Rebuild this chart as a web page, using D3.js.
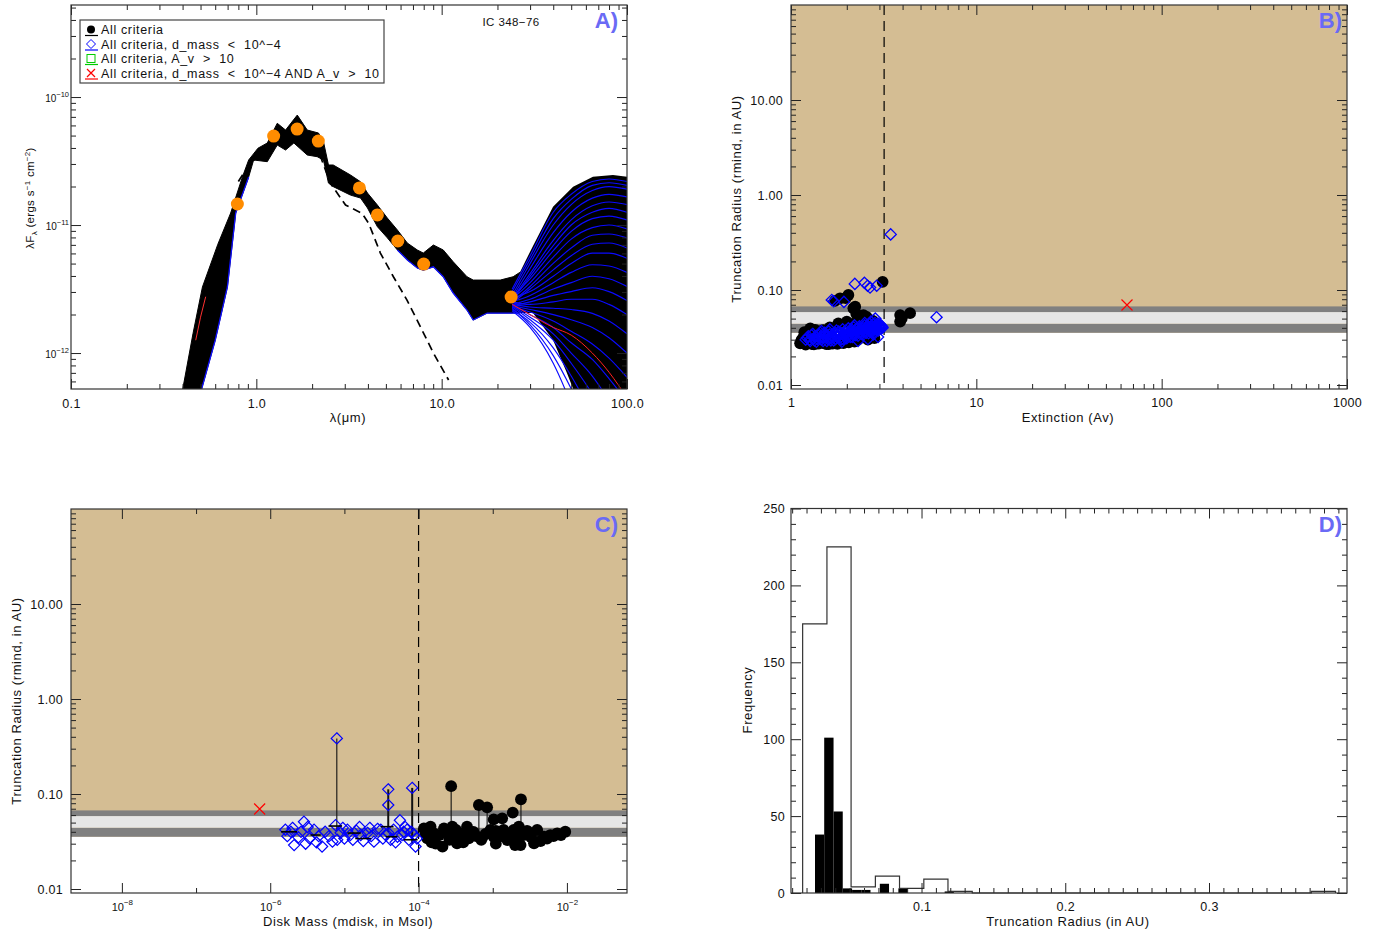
<!DOCTYPE html>
<html><head><meta charset="utf-8">
<script src="https://cdn.jsdelivr.net/npm/d3@7"></script>
<style>
body{margin:0;background:#fff}
svg{display:block}
text{font-family:"Liberation Sans",Arial,sans-serif;fill:#111}
</style></head>
<body><svg id="c" width="1387" height="936"></svg>
<script>
// ================= DATA =================
// Panel A : observed photometry (lambda in micron, lambda*F_lambda)
const obsLambda=[0.79,1.24,1.66,2.16,3.6,4.5,5.8,8.0,23.7];
const obsFlux=[1.46e-11,4.95e-11,5.62e-11,4.53e-11,1.95e-11,1.2e-11,7.5e-12,4.95e-12,2.74e-12];
// envelope of the fitted model SEDs  [lambda, log10 flux]
const bandUpper=[[0.395,-12.45],[0.401,-12.28],[0.455,-11.85],[0.512,-11.484],[0.62,-11.15],[0.727,-10.906],[0.841,-10.625],[0.909,-10.492],[1.02,-10.40],[1.146,-10.359],[1.297,-10.205],[1.438,-10.258],[1.663,-10.141],[1.883,-10.258],[2.164,-10.281],[2.303,-10.349],[2.45,-10.531],[2.6,-10.531],[3.22,-10.609],[3.65,-10.662],[3.98,-10.75],[4.5,-10.844],[5.09,-10.945],[5.77,-11.039],[6.53,-11.141],[7.39,-11.195],[7.96,-11.219],[9.02,-11.156],[10.2,-11.195],[11.54,-11.287],[13.7,-11.404],[14.8,-11.43],[20.7,-11.43],[24.3,-11.404],[26.4,-11.37]];
const bandLower=[[26.4,-11.6875],[24.3,-11.6875],[17.6,-11.6875],[14.8,-11.742],[13.7,-11.664],[11.54,-11.531],[10.2,-11.404],[9.02,-11.326],[7.96,-11.352],[7.39,-11.336],[6.53,-11.273],[5.77,-11.195],[5.09,-11.10],[4.5,-11.013],[3.98,-10.867],[3.65,-10.789],[3.22,-10.766],[2.6,-10.70],[2.45,-10.672],[2.303,-10.492],[2.13,-10.466],[1.883,-10.453],[1.594,-10.359],[1.438,-10.414],[1.297,-10.375],[1.146,-10.505],[0.967,-10.492],[0.909,-10.625],[0.774,-10.906],[0.698,-11.484],[0.60,-11.90],[0.507,-12.28],[0.50,-12.45]];
// long-wavelength spread of the models
const fanUpper=[[26.4,-11.37],[31.1,-11.163],[39.9,-10.857],[51.2,-10.70],[65.5,-10.623],[84,-10.609],[100,-10.623],[104,-10.62],[104,-12.6]];
const fanLower=[[54,-12.6],[51.2,-12.28],[47.4,-12.156],[39.9,-11.898],[31.1,-11.6875],[26.4,-11.6875]];
const fanLambda=[24,30,40,50,65,80,100];
const fanBlue=[
 [-11.50,-11.24,-10.90,-10.76,-10.66,-10.64,-10.66],
 [-11.52,-11.27,-10.95,-10.80,-10.69,-10.67,-10.69],
 [-11.55,-11.30,-11.00,-10.84,-10.73,-10.70,-10.72],
 [-11.57,-11.34,-11.06,-10.90,-10.79,-10.76,-10.78],
 [-11.58,-11.38,-11.12,-10.96,-10.85,-10.82,-10.84],
 [-11.59,-11.40,-11.16,-11.00,-10.90,-10.87,-10.90],
 [-11.56,-11.42,-11.20,-11.05,-10.95,-10.93,-10.96],
 [-11.58,-11.45,-11.25,-11.11,-11.02,-11.00,-11.03],
 [-11.60,-11.48,-11.30,-11.18,-11.08,-11.07,-11.10],
 [-11.61,-11.50,-11.35,-11.24,-11.15,-11.14,-11.18],
 [-11.57,-11.52,-11.40,-11.30,-11.22,-11.22,-11.26],
 [-11.60,-11.55,-11.45,-11.37,-11.31,-11.32,-11.37],
 [-11.62,-11.58,-11.50,-11.45,-11.40,-11.42,-11.48],
 [-11.63,-11.60,-11.55,-11.52,-11.49,-11.52,-11.59],
 [-11.60,-11.62,-11.60,-11.58,-11.58,-11.62,-11.70],
 [-11.62,-11.64,-11.65,-11.66,-11.69,-11.75,-11.85],
 [-11.63,-11.66,-11.70,-11.74,-11.80,-11.88,-12.00],
 [-11.64,-11.68,-11.75,-11.83,-11.93,-12.04,-12.19],
 [-11.62,-11.70,-11.80,-11.92,-12.05,-12.20,-12.38],
 [-11.63,-11.72,-11.85,-12.00,-12.18,-12.37,-12.59],
 [-11.64,-11.74,-11.90,-12.08,-12.32,-12.55,-12.80],
 [-11.66,-11.76,-11.96,-12.18,-12.48,-12.75,-13.05],
 [-11.65,-11.78,-12.02,-12.28,-12.65,-12.95,-13.30],
 [-11.67,-11.80,-12.08,-12.40,-12.85,-13.20,-13.50]
];
const fanRed=[-11.62,-11.70,-11.80,-11.86,-12.00,-12.15,-12.35];
const redBlueLambda=[0.471,0.50,0.533];
const redBlueLogF=[-11.90,-11.72,-11.56];
// stellar photosphere (dashed)
const photoLambda=[0.80,0.85,1.0,1.25,1.65,2.2,2.51,3.03,3.72,4.04,4.67,5.49,6.5,7.67,9.04,10.9];
const photoLogF=[-10.66,-10.60,-10.47,-10.36,-10.33,-10.45,-10.674,-10.844,-10.909,-10.987,-11.219,-11.404,-11.586,-11.794,-12.002,-12.211];

const legendLabels=['All criteria','All criteria, d_mass  <  10^\u22124','All criteria, A_v  >  10','All criteria, d_mass  <  10^\u22124 AND A_v  >  10'];

// Panel B : truncation radius vs extinction  [Av, R(AU)]
const bCircles=[[1.12,0.0275],[1.14,0.0298],[1.17,0.0320],[1.22,0.0345],[1.27,0.0395],[1.30,0.0270],[1.36,0.0283],[1.43,0.0278],[1.49,0.0379],[1.55,0.0270],[1.63,0.0283],[1.71,0.0278],[1.80,0.0446],[1.86,0.0280],[2.00,0.0464],[2.10,0.0290],[2.17,0.0642],[2.22,0.0667],[2.25,0.0560],[2.04,0.0886],[1.97,0.0820],[1.84,0.0818],[1.73,0.0770],[2.46,0.0545],[2.56,0.0520],[2.46,0.0413],[2.67,0.0322],[2.60,0.0300],[2.82,0.0312],[3.12,0.122],[3.88,0.0545],[4.39,0.0570],[3.88,0.0465],[3.96,0.0503],[2.30,0.0300],[1.95,0.0300],[2.40,0.0480],[2.75,0.0475],
 [1.15,0.0280],[1.20,0.0266],[1.25,0.0276],[1.33,0.0268],[1.40,0.0272],[1.50,0.0276],[1.60,0.0270],[1.68,0.0273],[1.78,0.0271],[1.92,0.0276],[2.05,0.0282],[2.20,0.0286],[1.18,0.0360],[1.35,0.0380],[1.62,0.0405],[2.15,0.0440],[2.35,0.0445]];
const bDiamonds=[[1.20,0.0300],[1.24,0.0325],[1.27,0.0290],[1.31,0.0345],[1.33,0.0310],[1.37,0.0285],[1.40,0.0330],[1.44,0.0355],[1.46,0.0300],[1.50,0.0320],[1.53,0.0345],[1.56,0.0290],[1.60,0.0365],[1.63,0.0310],[1.66,0.0335],[1.70,0.0295],[1.73,0.0355],[1.76,0.0375],[1.79,0.0320],[1.83,0.0345],[1.86,0.0300],[1.90,0.0385],[1.93,0.0330],[1.96,0.0360],[2.00,0.0310],[2.04,0.0395],[2.07,0.0345],[2.11,0.0370],[2.14,0.0320],[2.18,0.0405],[2.22,0.0355],[2.26,0.0385],[2.30,0.0330],[2.34,0.0415],[2.38,0.0365],[2.42,0.0395],[2.46,0.0340],[2.50,0.0425],[2.54,0.0375],[2.58,0.0405],[2.62,0.0350],[2.67,0.0440],[2.71,0.0385],[2.75,0.0415],[2.80,0.0360],[2.84,0.0450],[2.88,0.0400],[2.92,0.0430],[2.96,0.0375],[3.00,0.0420],[3.05,0.0395],[3.10,0.0410],[2.85,0.0500],[2.95,0.0320],[2.30,0.0290],[1.88,0.0285],[2.60,0.0305],
 [1.22,0.0315],[1.26,0.0300],[1.29,0.0335],[1.34,0.0295],[1.36,0.0325],[1.39,0.0305],[1.42,0.0340],[1.47,0.0315],[1.49,0.0290],[1.52,0.0355],[1.55,0.0325],[1.58,0.0305],[1.61,0.0340],[1.64,0.0295],[1.68,0.0320],[1.71,0.0345],[1.74,0.0305],[1.77,0.0330],[1.81,0.0365],[1.84,0.0315],[1.87,0.0350],[1.91,0.0305],[1.94,0.0345],[1.98,0.0375],[2.01,0.0330],[2.05,0.0360],[2.09,0.0320],[2.12,0.0385],[2.16,0.0345],[2.20,0.0375],[2.24,0.0335],[2.28,0.0395],[2.32,0.0355],[2.36,0.0390],[2.40,0.0345],[2.44,0.0410],[2.48,0.0365],[2.52,0.0395],[2.56,0.0355],[2.60,0.0420],[2.64,0.0380],[2.69,0.0410],[2.73,0.0370],[2.77,0.0435],[2.82,0.0390],[2.86,0.0425],[2.90,0.0385],[2.94,0.0445],[2.98,0.0400],[3.02,0.0435],[3.07,0.0420],[3.12,0.0400],[2.70,0.0465],[2.78,0.0340],[2.50,0.0450],[2.20,0.0425],[1.62,0.0385],[1.46,0.0370],
 [3.45,0.385],[2.21,0.116],[2.49,0.119],[2.59,0.111],[2.67,0.106],[2.90,0.111],[1.66,0.0785],[1.70,0.0760],[1.93,0.0750],[6.1,0.0517]];
const bCrosses=[[65,0.0695]];
const avCut=[3.18];

// Panel C : truncation radius vs disk mass [Mdisk(Msol), R(AU)]
const cCircles=[[1.18e-4,0.0435],[1.45e-4,0.0453],[1.31e-4,0.0342],[1.6e-4,0.0386],[2.1e-4,0.0279],[2.2e-4,0.0435],[2.85e-4,0.0453],[3.0e-4,0.037],[3.7e-4,0.0386],[4.5e-4,0.0453],[4.75e-4,0.0342],[3.3e-4,0.0303],[9.3e-4,0.0418],[1.03e-3,0.0355],[1.2e-3,0.0386],[1.57e-3,0.0328],[1.92e-3,0.0418],[2.25e-3,0.0453],[2.37e-3,0.029],[2.6e-3,0.037],[3.6e-3,0.0303],[3.97e-3,0.0418],[4.9e-3,0.0355],[6.0e-3,0.037],[7.4e-3,0.0386],[9.5e-3,0.0401],[1.7e-4,0.0300],[2.6e-4,0.0330],[5.5e-4,0.0400],[7.0e-4,0.0330],[1.4e-3,0.0420],[3.1e-3,0.0390],
 [1.25e-4,0.038],[1.5e-4,0.031],[1.9e-4,0.037],[2.4e-4,0.040],[3.2e-4,0.042],[4.0e-4,0.031],[5.0e-4,0.040],[6.0e-4,0.036],[8.0e-4,0.038],[1.1e-3,0.030],[1.3e-3,0.036],[1.7e-3,0.038],[2.1e-3,0.034],[2.9e-3,0.041],[3.3e-3,0.035],[4.4e-3,0.032],[5.4e-3,0.034],[6.6e-3,0.036],[8.3e-3,0.037],[2.0e-3,0.029],[1.1e-3,0.041],
 [2.75e-4,0.121],[6.5e-4,0.0766],[8.4e-4,0.0724],[2.4e-3,0.088],[1.86e-3,0.0636],[1.03e-3,0.054],[1.34e-3,0.0555]];
const cDiamonds=[[1.6e-6,0.042],[1.9e-6,0.040],[2.1e-6,0.029],[2.85e-6,0.051],[3.2e-6,0.045],[3.0e-6,0.030],[3.9e-6,0.042],[5.0e-6,0.028],[6.9e-6,0.0315],[7.6e-6,0.047],[8.9e-6,0.039],[1.1e-5,0.042],[1.3e-5,0.033],[1.6e-5,0.045],[1.66e-5,0.037],[2.05e-5,0.039],[2.5e-5,0.0315],[3.1e-5,0.042],[3.6e-5,0.037],[4.2e-5,0.033],[5.2e-5,0.0355],[5.6e-5,0.053],[4.6e-5,0.042],[7.0e-5,0.042],[7.4e-5,0.033],[9.1e-5,0.028],[8.7e-5,0.037],[2.4e-6,0.035],[4.5e-6,0.036],[1.0e-5,0.034],[2.2e-5,0.044],[6.3e-5,0.040],
 [1.7e-6,0.036],[2.0e-6,0.044],[2.6e-6,0.040],[3.4e-6,0.034],[4.2e-6,0.031],[5.5e-6,0.040],[6.2e-6,0.036],[8.0e-6,0.033],[9.5e-6,0.044],[1.2e-5,0.037],[1.45e-5,0.041],[1.8e-5,0.032],[2.3e-5,0.036],[2.8e-5,0.043],[3.3e-5,0.034],[3.9e-5,0.039],[4.9e-5,0.031],[6.0e-5,0.037],[6.6e-5,0.045],[8.0e-5,0.040],[9.5e-5,0.034],
 [7.9e-6,0.385],[3.9e-5,0.112],[3.9e-5,0.0766],[8.2e-5,0.116]];
const cCrosses=[[7.2e-7,0.0695]];
const cStems=[[7.9e-6,0.041,0.385],[3.9e-5,0.040,0.112],[8.2e-5,0.030,0.116],[2.75e-4,0.042,0.121],[6.5e-4,0.033,0.0766],[8.4e-4,0.033,0.0724],[2.4e-3,0.045,0.088]];
const cBars=[[1.4e-6,2.3e-6,0.040],[3.5e-6,4.8e-6,0.037],[6.1e-6,9.3e-6,0.046],[1.1e-5,1.66e-5,0.0388],[1.4e-5,2.3e-5,0.034],[3.1e-5,4.6e-5,0.0453],[3.6e-5,5.2e-5,0.0355],[6.3e-5,9.7e-5,0.033],[5.5e-4,8.5e-4,0.033]];
const massCut=[1e-4];
// corotation-radius bands [low, high]
const bandDark1=[0.0355,0.0442], bandLight=[0.0442,0.0586], bandDark2=[0.0586,0.0672];

// Panel D : histograms  [bin low, bin high, count]
const histAll=[[0.0173,0.0342,175],[0.0342,0.0510,225],[0.0510,0.0679,4],[0.0679,0.0847,11],[0.0847,0.1016,3],[0.1016,0.1184,9],[0.1184,0.1353,1],[0.3712,0.3880,1]];
const histSel=[[0.0259,0.0323,38],[0.0323,0.0388,101],[0.0388,0.0452,53],[0.0452,0.0517,3],[0.0517,0.0581,2],[0.0581,0.0645,2],[0.0710,0.0774,6],[0.0839,0.0903,3],[0.1161,0.1225,1]];

// tick values
const aXMajor=[0.1,1,10,100];
const aYMajor=[1e-12,1e-11,1e-10];
const decMinor=(lo,hi)=>{const r=[];for(let e=lo;e<hi;e++)for(let k=2;k<=9;k++)r.push(k*Math.pow(10,e));return r;};
const bXMajor=[1,10,100,1000];
const rMajor=[0.01,0.1,1,10];
const cXMajor=[1e-8,1e-6,1e-4,1e-2];
const cXMinor=[1e-7,1e-5,1e-3];
const dXMajor=[0.1,0.2,0.3];
const dYMajor=[0,50,100,150,200,250];

// ================= DRAW =================
const svg=d3.select('#c');
const TICK='#222';
function axes(x,y,o){
  const g=svg.append('g');
  const [xl,xr]=x.range(), [yb,yt]=y.range();
  const mk=(fn,sc,vals,len,fmt,tr,pad)=>{
    const a=g.append('g').attr('transform',tr)
      .call(fn(sc).tickValues(vals).tickSize(-len).tickSizeOuter(0).tickFormat(fmt||(()=>'')).tickPadding(pad||8));
    a.select('.domain').remove();
    a.attr('font-family',null).attr('font-size',o.fs||12.5).style('color',TICK);
    a.selectAll('text').attr('letter-spacing',0.3);
    a.selectAll('line').attr('stroke-width',1);
    return a;
  };
  const r={};
  r.bx=mk(d3.axisBottom,x,o.xMajor,10,o.xFmt,`translate(0,${yb})`,o.xPad);
  mk(d3.axisBottom,x,o.xMinor,5,null,`translate(0,${yb})`);
  mk(d3.axisTop,x,o.xMajor,10,null,`translate(0,${yt})`);
  mk(d3.axisTop,x,o.xMinor,5,null,`translate(0,${yt})`);
  r.ly=mk(d3.axisLeft,y,o.yMajor,10,o.yFmt,`translate(${xl},0)`,o.yPad);
  mk(d3.axisLeft,y,o.yMinor,5,null,`translate(${xl},0)`);
  mk(d3.axisRight,y,o.yMajor,10,null,`translate(${xr},0)`);
  mk(d3.axisRight,y,o.yMinor,5,null,`translate(${xr},0)`);
  g.append('rect').attr('x',xl).attr('y',yt).attr('width',xr-xl).attr('height',yb-yt)
    .attr('fill','none').attr('stroke','#333').attr('stroke-width',1.2);
  return r;
}
function supLabels(ax,base,sup){
  ax.selectAll('text').each(function(d){
    const t=d3.select(this); t.text(null).attr('letter-spacing',0);
    t.append('tspan').attr('font-size',base).text('10');
    t.append('tspan').attr('font-size',sup).attr('dy',-base*0.5).text('\u2212'+Math.round(-Math.log10(d)));
  });
}
function clip(id,x,y){
  const [xl,xr]=x.range(), [yb,yt]=y.range();
  svg.append('clipPath').attr('id',id).append('rect').attr('x',xl).attr('y',yt).attr('width',xr-xl).attr('height',yb-yt);
  return svg.append('g').attr('clip-path',`url(#${id})`);
}
const diamond='M0,-5.6L5.6,0L0,5.6L-5.6,0Z';
const cross='M-5.5,-5.5L5.5,5.5M-5.5,5.5L5.5,-5.5';
function panelLabel(txt,x,y){
  svg.append('text').attr('x',x).attr('y',y).attr('text-anchor','end')
    .attr('font-size',22).attr('font-weight','bold').style('fill','#6a6af5').text(txt);
}
function title(txt,x,y,rot){
  const t=svg.append('text').attr('text-anchor','middle').attr('font-size',13).attr('letter-spacing',0.6);
  if(rot) t.attr('transform',`translate(${x},${y}) rotate(-90)`); else t.attr('x',x).attr('y',y);
  t.text(txt); return t;
}

// ---------- Panel A ----------
const xA=d3.scaleLog().domain([0.1,100]).range([71,627]);
const yA=d3.scaleLog().domain([Math.pow(10,-12.281),Math.pow(10,-9.281)]).range([389,5]);
const lA=d3.line().x(d=>xA(d[0])).y(d=>yA(Math.pow(10,d[1])));
const gA=clip('clipA',xA,yA);
gA.append('path').attr('d',lA(fanUpper.concat(fanLower))+'Z').attr('fill','#000');
gA.append('path').attr('d',lA(bandUpper.concat(bandLower))+'Z').attr('fill','#000').attr('stroke','#000').attr('stroke-width',1);
gA.append('path').attr('d',lA(bandLower.slice(0,12))).attr('fill','none').attr('stroke','#1010ff').attr('stroke-width',1.3);
gA.append('path').attr('d',lA(bandLower.slice(27))).attr('fill','none').attr('stroke','#1010ff').attr('stroke-width',1.3);
const lFan=d3.line().curve(d3.curveMonotoneX).x((d,i)=>xA(fanLambda[i])).y(d=>yA(Math.pow(10,d)));
fanBlue.forEach(r=>gA.append('path').attr('d',lFan(r)).attr('fill','none').attr('stroke','#0a0aff').attr('stroke-width',1.15));
gA.append('path').attr('d',lFan(fanRed)).attr('fill','none').attr('stroke','#ff2020').attr('stroke-width',1);
gA.append('path').attr('d',d3.line().x((d,i)=>xA(redBlueLambda[i])).y(d=>yA(Math.pow(10,d)))(redBlueLogF))
  .attr('fill','none').attr('stroke','#ff3030').attr('stroke-width',1);
gA.append('path').attr('d',d3.line().x((d,i)=>xA(photoLambda[i])).y(d=>yA(Math.pow(10,d)))(photoLogF))
  .attr('fill','none').attr('stroke','#000').attr('stroke-width',1.7).attr('stroke-dasharray','8,5');
gA.selectAll('circle.obs').data(obsLambda).join('circle').attr('class','obs')
  .attr('cx',d=>xA(d)).attr('cy',(d,i)=>yA(obsFlux[i])).attr('r',6.5).attr('fill','#ff8c00');
const axA=axes(xA,yA,{xMajor:aXMajor,xMinor:decMinor(-1,2),xFmt:d3.format('.1f'),xPad:10,
  yMajor:aYMajor,yMinor:decMinor(-13,-9).filter(v=>v>yA.domain()[0]&&v<yA.domain()[1]),yFmt:d=>d,yPad:2});
supLabels(axA.ly,10,7.5);
// legend
const lg=svg.append('g');
lg.append('rect').attr('x',80).attr('y',20).attr('width',304).attr('height',63).attr('fill','#fff').attr('stroke','#444').attr('stroke-width',1.2);
const legCol=['#000','#0000ff','#00cc00','#ff0000'];
legendLabels.forEach((t,i)=>{
  const cy=29.5+i*14.5;
  lg.append('line').attr('x1',85).attr('x2',98).attr('y1',cy+6).attr('y2',cy+6).attr('stroke',legCol[i]).attr('stroke-width',1.2);
  if(i===0) lg.append('circle').attr('cx',91).attr('cy',cy).attr('r',4).attr('fill','#000');
  if(i===1) lg.append('path').attr('d','M0,-4.5L4.5,0L0,4.5L-4.5,0Z').attr('transform',`translate(91,${cy})`).attr('fill','none').attr('stroke','#0000ff');
  if(i===2) lg.append('rect').attr('x',87).attr('y',cy-4).attr('width',8).attr('height',8).attr('fill','none').attr('stroke','#00cc00');
  if(i===3) lg.append('path').attr('d','M-4,-4L4,4M-4,4L4,-4').attr('transform',`translate(91,${cy})`).attr('stroke','#ff0000').attr('stroke-width',1.2);
  lg.append('text').attr('x',101).attr('y',cy+4.5).attr('font-size',12.5).attr('letter-spacing',0.65)
    .attr('xml:space','preserve').style('white-space','pre').text(t);
});
svg.append('text').attr('x',511).attr('y',26).attr('text-anchor','middle').attr('font-size',11.5).attr('letter-spacing',0.4).text('IC 348\u221276');
panelLabel('A)',618,28);
title('\u03bb(\u03bcm)',348,422);
{
  const t=svg.append('text').attr('transform','translate(34,198) rotate(-90)').attr('text-anchor','middle').attr('font-size',11.5).attr('letter-spacing',0.3);
  t.append('tspan').text('\u03bbF');
  t.append('tspan').attr('font-size',8).attr('dy',3).text('\u03bb');
  t.append('tspan').attr('dy',-3).text(' (ergs s');
  t.append('tspan').attr('font-size',8).attr('dy',-4.5).text('\u22121');
  t.append('tspan').attr('dy',4.5).text(' cm');
  t.append('tspan').attr('font-size',8).attr('dy',-4.5).text('\u22122');
  t.append('tspan').attr('dy',4.5).text(')');
}

// ---------- shared R bands ----------
function rBackground(g,x,y){
  const [xl,xr]=x.range(), [yb,yt]=y.range();
  g.append('rect').attr('x',xl).attr('y',yt).attr('width',xr-xl).attr('height',yb-yt).attr('fill','#d4bd93');
  g.append('rect').attr('x',xl).attr('y',y(bandDark1[0])).attr('width',xr-xl).attr('height',yb-y(bandDark1[0])).attr('fill','#fff');
  [[bandDark1,'#808080'],[bandLight,'#e6e6e6'],[bandDark2,'#808080']].forEach(([b,c])=>
    g.append('rect').attr('x',xl).attr('y',y(b[1])).attr('width',xr-xl).attr('height',y(b[0])-y(b[1])).attr('fill',c));
}
const rYMinor=decMinor(-2,2).filter(v=>v<100);

// ---------- Panel B ----------
const xB=d3.scaleLog().domain([1,1000]).range([791,1347]);
const yB=d3.scaleLog().domain([Math.pow(10,-2.042),100]).range([389,5]);
const gB=clip('clipB',xB,yB);
rBackground(gB,xB,yB);
gB.selectAll('line.cut').data(avCut).join('line').attr('class','cut').attr('x1',d=>xB(d)).attr('x2',d=>xB(d))
  .attr('y1',5).attr('y2',389).attr('stroke','#000').attr('stroke-width',1.2).attr('stroke-dasharray','10,6');
gB.selectAll('circle.p').data(bCircles).join('circle').attr('class','p').attr('cx',d=>xB(d[0])).attr('cy',d=>yB(d[1])).attr('r',5.9).attr('fill','#000');
gB.selectAll('path.dm').data(bDiamonds).join('path').attr('class','dm').attr('d',diamond)
  .attr('transform',d=>`translate(${xB(d[0])},${yB(d[1])})`).attr('fill','none').attr('stroke','#0000ff').attr('stroke-width',1.3);
gB.selectAll('path.cx').data(bCrosses).join('path').attr('class','cx').attr('d',cross)
  .attr('transform',d=>`translate(${xB(d[0])},${yB(d[1])})`).attr('stroke','#ff0000').attr('stroke-width',1.2);
axes(xB,yB,{xMajor:bXMajor,xMinor:decMinor(0,3),xFmt:d3.format('d'),xPad:9,yMajor:rMajor,yMinor:rYMinor,yFmt:d3.format('.2f'),yPad:8});
panelLabel('B)',1342,28);
title('Extinction (Av)',1068,422);
title('Truncation Radius (rmind, in AU)',741,199,true);

// ---------- Panel C ----------
const xC=d3.scaleLog().domain([Math.pow(10,-8.686),Math.pow(10,-1.19)]).range([71,627]);
const yC=d3.scaleLog().domain([Math.pow(10,-2.042),100]).range([893,509]);
const gC=clip('clipC',xC,yC);
rBackground(gC,xC,yC);
gC.selectAll('line.cut').data(massCut).join('line').attr('class','cut').attr('x1',d=>xC(d)).attr('x2',d=>xC(d))
  .attr('y1',509).attr('y2',893).attr('stroke','#000').attr('stroke-width',1.2).attr('stroke-dasharray','10,6');
gC.selectAll('line.st').data(cStems).join('line').attr('class','st').attr('x1',d=>xC(d[0])).attr('x2',d=>xC(d[0]))
  .attr('y1',d=>yC(d[1])).attr('y2',d=>yC(d[2])).attr('stroke','#111').attr('stroke-width',(d,i)=>i===1||i===2?2:1.1);
gC.selectAll('circle.p').data(cCircles).join('circle').attr('class','p').attr('cx',d=>xC(d[0])).attr('cy',d=>yC(d[1])).attr('r',5.9).attr('fill','#000');
gC.selectAll('path.dm').data(cDiamonds).join('path').attr('class','dm').attr('d',diamond)
  .attr('transform',d=>`translate(${xC(d[0])},${yC(d[1])})`).attr('fill','none').attr('stroke','#0000ff').attr('stroke-width',1.2);
gC.selectAll('line.hb').data(cBars).join('line').attr('class','hb').attr('x1',d=>xC(d[0])).attr('x2',d=>xC(d[1]))
  .attr('y1',d=>yC(d[2])).attr('y2',d=>yC(d[2])).attr('stroke','#000').attr('stroke-width',1.6);
gC.selectAll('path.cx').data(cCrosses).join('path').attr('class','cx').attr('d',cross)
  .attr('transform',d=>`translate(${xC(d[0])},${yC(d[1])})`).attr('stroke','#ff0000').attr('stroke-width',1.2);
const axC=axes(xC,yC,{xMajor:cXMajor,xMinor:cXMinor,xFmt:d=>d,xPad:9,yMajor:rMajor,yMinor:rYMinor,yFmt:d3.format('.2f'),yPad:8});
supLabels(axC.bx,11,8);
panelLabel('C)',618,532);
title('Disk Mass (mdisk, in Msol)',348,926);
title('Truncation Radius (rmind, in AU)',21,701,true);

// ---------- Panel D ----------
const xD=d3.scaleLinear().domain([0.0092,0.396]).range([791,1347]);
const yD=d3.scaleLinear().domain([0,250]).range([893,508.5]);
svg.append('g').selectAll('rect').data(histSel).join('rect')
  .attr('x',d=>xD(d[0])).attr('width',d=>xD(d[1])-xD(d[0])).attr('y',d=>yD(d[2])).attr('height',d=>yD(0)-yD(d[2])).attr('fill','#000');
{
  let p='', prevHi=null;
  histAll.forEach(([lo,hi,n])=>{
    if(prevHi===null) p+=`M${xD(lo)},${yD(0)}`;
    else if(Math.abs(lo-prevHi)>1e-6) p+=`V${yD(0)}H${xD(lo)}`;
    p+=`V${yD(n)}H${xD(hi)}`; prevHi=hi;
  });
  p+=`V${yD(0)}`;
  svg.append('path').attr('d',p).attr('fill','none').attr('stroke','#333').attr('stroke-width',1.2);
}
const dXMinor=d3.range(1,40).map(k=>k/100).filter(v=>v>0.0092&&Math.round(v*100)%10!==0);
const dYMinor=d3.range(10,250,10).filter(v=>v%50!==0);
axes(xD,yD,{xMajor:dXMajor,xMinor:dXMinor,xFmt:d3.format('.1f'),xPad:9,yMajor:dYMajor,yMinor:dYMinor,yFmt:d3.format('d'),yPad:6});
panelLabel('D)',1342,532);
title('Truncation Radius (in AU)',1068,926);
title('Frequency',752,700,true);
</script></body></html>
